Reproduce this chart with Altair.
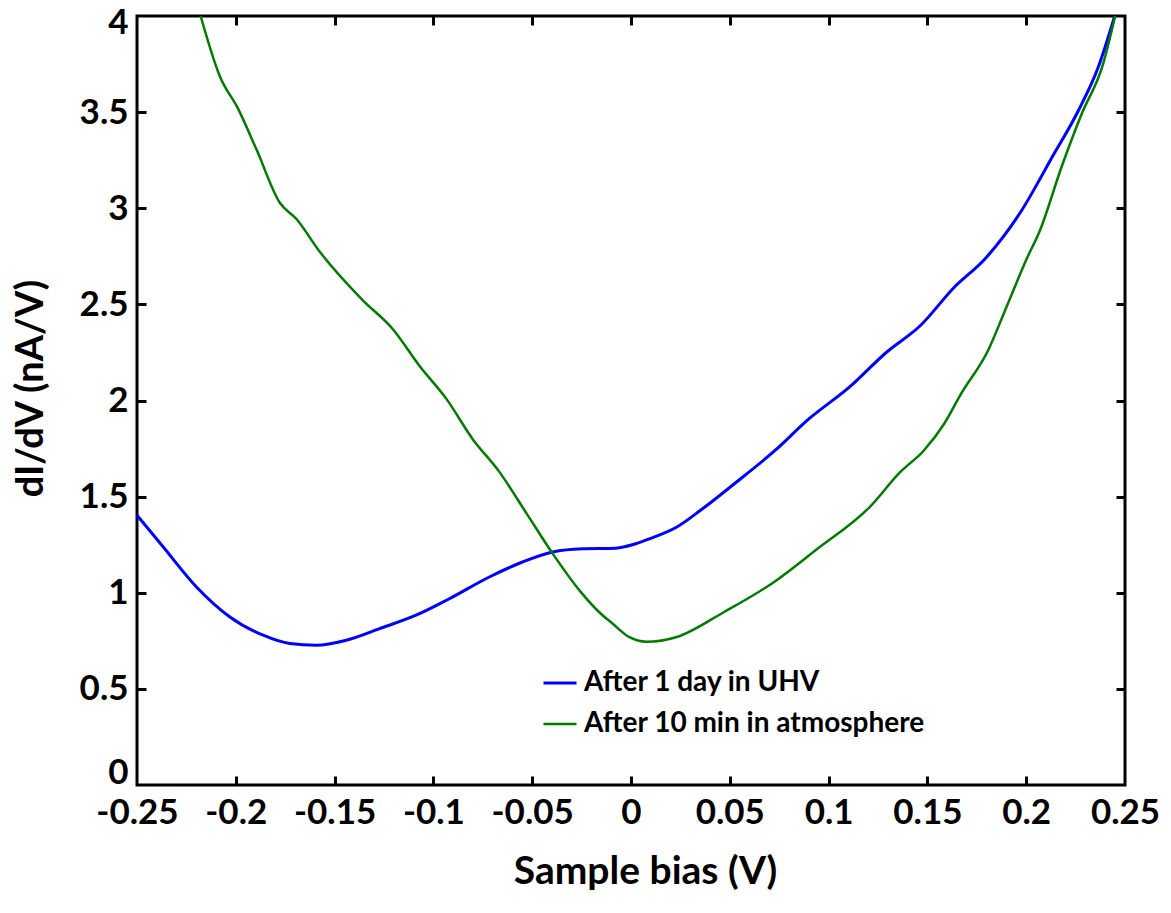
import altair as alt
import pandas as pd

# ---- data ----
uhv_x = [-0.25, -0.2367, -0.2199, -0.2030, -0.1862, -0.1727, -0.1592, -0.1441, -0.1273,
         -0.1088, -0.0919, -0.0717, -0.0549, -0.0397, -0.0246, -0.0077, 0.0024, 0.0095,
         0.0232, 0.0352, 0.0523, 0.0729, 0.0900, 0.1105, 0.1293, 0.1465, 0.1636, 0.1791,
         0.1976, 0.2128, 0.2263, 0.2364, 0.2448]
uhv_y = [1.403, 1.238, 1.030, 0.874, 0.779, 0.736, 0.727, 0.753, 0.813,
         0.883, 0.969, 1.082, 1.160, 1.212, 1.229, 1.232, 1.255, 1.281,
         1.342, 1.429, 1.567, 1.740, 1.904, 2.069, 2.251, 2.390, 2.589, 2.736,
         2.987, 3.260, 3.506, 3.732, 4.0]

atm_x = [-0.2178, -0.2081, -0.1988, -0.1895, -0.1778, -0.1693, -0.1576, -0.1357, -0.1206,
         -0.1071, -0.0936, -0.0801, -0.0667, -0.0532, -0.0398, -0.0263, -0.0162, -0.0094,
         -0.0010, 0.0078, 0.0232, 0.0471, 0.0711, 0.0934, 0.1208, 0.1362, 0.1482, 0.1585,
         0.1670, 0.1807, 0.1893, 0.2002, 0.2069, 0.2178, 0.2280, 0.2389, 0.2450]
atm_y = [4.0, 3.687, 3.517, 3.305, 3.030, 2.944, 2.775, 2.521, 2.372,
         2.181, 2.011, 1.799, 1.630, 1.418, 1.206, 1.015, 0.900, 0.840,
         0.770, 0.745, 0.770, 0.900, 1.047, 1.221, 1.446, 1.627, 1.740, 1.879,
         2.034, 2.260, 2.468, 2.736, 2.883, 3.212, 3.489, 3.750, 4.0]

series_names = ["After 1 day in UHV", "After 10 min in atmosphere"]
series_colors = ["#0000ff", "#007a00"]
series_widths = [3, 2.5]

x_labels = [-0.25, -0.2, -0.15, -0.1, -0.05, 0, 0.05, 0.1, 0.15, 0.2, 0.25]
y_labels = [0, 0.5, 1, 1.5, 2, 2.5, 3, 3.5, 4]
x_inner_ticks = [-0.2, -0.15, -0.1, -0.05, 0, 0.05, 0.1, 0.15, 0.2]
y_inner_ticks = [0.5, 1, 1.5, 2, 2.5, 3, 3.5]

df = pd.concat([
    pd.DataFrame({"bias": uhv_x, "didv": uhv_y, "series": series_names[0]}),
    pd.DataFrame({"bias": atm_x, "didv": atm_y, "series": series_names[1]}),
], ignore_index=True)

FONT = "Lato"
label_expr = "datum.value == 0 ? '0' : toString(round(datum.value * 100) / 100)"

x_scale = alt.Scale(domain=[-0.25, 0.25], nice=False, zero=False)
y_scale = alt.Scale(domain=[0, 4], nice=False, zero=False)

base = alt.Chart(df)

lines = base.mark_line(interpolate="monotone").encode(
    x=alt.X("bias:Q", scale=x_scale, title="Sample bias (V)",
            axis=alt.Axis(orient="bottom", values=x_labels, labelExpr=label_expr,
                          domain=False, ticks=False, grid=False,
                          labelFont=FONT, labelFontSize=35, labelFontWeight="bold",
                          labelColor="black", labelPadding=10, labelFlush=False,
                          labelOverlap=False,
                          titleFont=FONT, titleFontSize=39, titleFontWeight="bold",
                          titleColor="black", titleX=508, titleY=98,
                          titleAlign="center", titleBaseline="alphabetic")),
    y=alt.Y("didv:Q", scale=y_scale, title="dI/dV (nA/V)",
            axis=alt.Axis(orient="left", values=y_labels, labelExpr=label_expr,
                          domain=False, ticks=False, grid=False,
                          labelFont=FONT, labelFontSize=35, labelFontWeight="bold",
                          labelColor="black", labelPadding=9, labelFlush=False,
                          labelOverlap=False,
                          labelOffset={"condition": [
                              {"test": "datum.value == 4", "value": 6},
                              {"test": "datum.value == 0", "value": -13}],
                              "value": 0},
                          titleFont=FONT, titleFontSize=38, titleFontWeight="bold",
                          titleColor="black", titleAngle=270, titleX=-95, titleY=372,
                          titleAlign="center", titleBaseline="alphabetic")),
    color=alt.Color("series:N",
                    scale=alt.Scale(domain=series_names, range=series_colors),
                    legend=alt.Legend(title=None, orient="none", legendX=405, legendY=649,
                                      symbolType="stroke", symbolSize=1089,
                                      symbolStrokeWidth=3, labelFont=FONT,
                                      labelFontSize=28, labelFontWeight="bold",
                                      labelColor="black", labelOffset=6,
                                      rowPadding=9, padding=0, labelLimit=0)),
    strokeWidth=alt.StrokeWidth("series:N",
                                scale=alt.Scale(domain=series_names, range=series_widths),
                                legend=None),
)

tick_axis = dict(labels=False, domain=False, ticks=True, tickSize=9, tickWidth=3,
                 tickColor="black", grid=False, offset=-9)

ticks_bl = base.mark_line(opacity=0).encode(
    x=alt.X("bias:Q", scale=x_scale, title="",
            axis=alt.Axis(orient="bottom", values=x_inner_ticks, **tick_axis)),
    y=alt.Y("didv:Q", scale=y_scale, title="",
            axis=alt.Axis(orient="left", values=y_inner_ticks, **tick_axis)),
    detail="series:N",
)

ticks_tr = base.mark_line(opacity=0).encode(
    x=alt.X("bias:Q", scale=x_scale, title="",
            axis=alt.Axis(orient="top", values=x_inner_ticks, **tick_axis)),
    y=alt.Y("didv:Q", scale=y_scale, title="",
            axis=alt.Axis(orient="right", values=y_inner_ticks, **tick_axis)),
    detail="series:N",
)

chart = alt.layer(lines, ticks_bl, ticks_tr).resolve_axis(
    x="independent", y="independent"
).properties(
    width=988, height=769,
    autosize=alt.AutoSizeParams(type="none"),
    padding={"left": 129, "top": 8, "right": 38, "bottom": 112},
    background="white",
).configure_view(stroke="black", strokeWidth=3)

chart.save("out.html", embed_options={"renderer": "svg", "actions": False})
